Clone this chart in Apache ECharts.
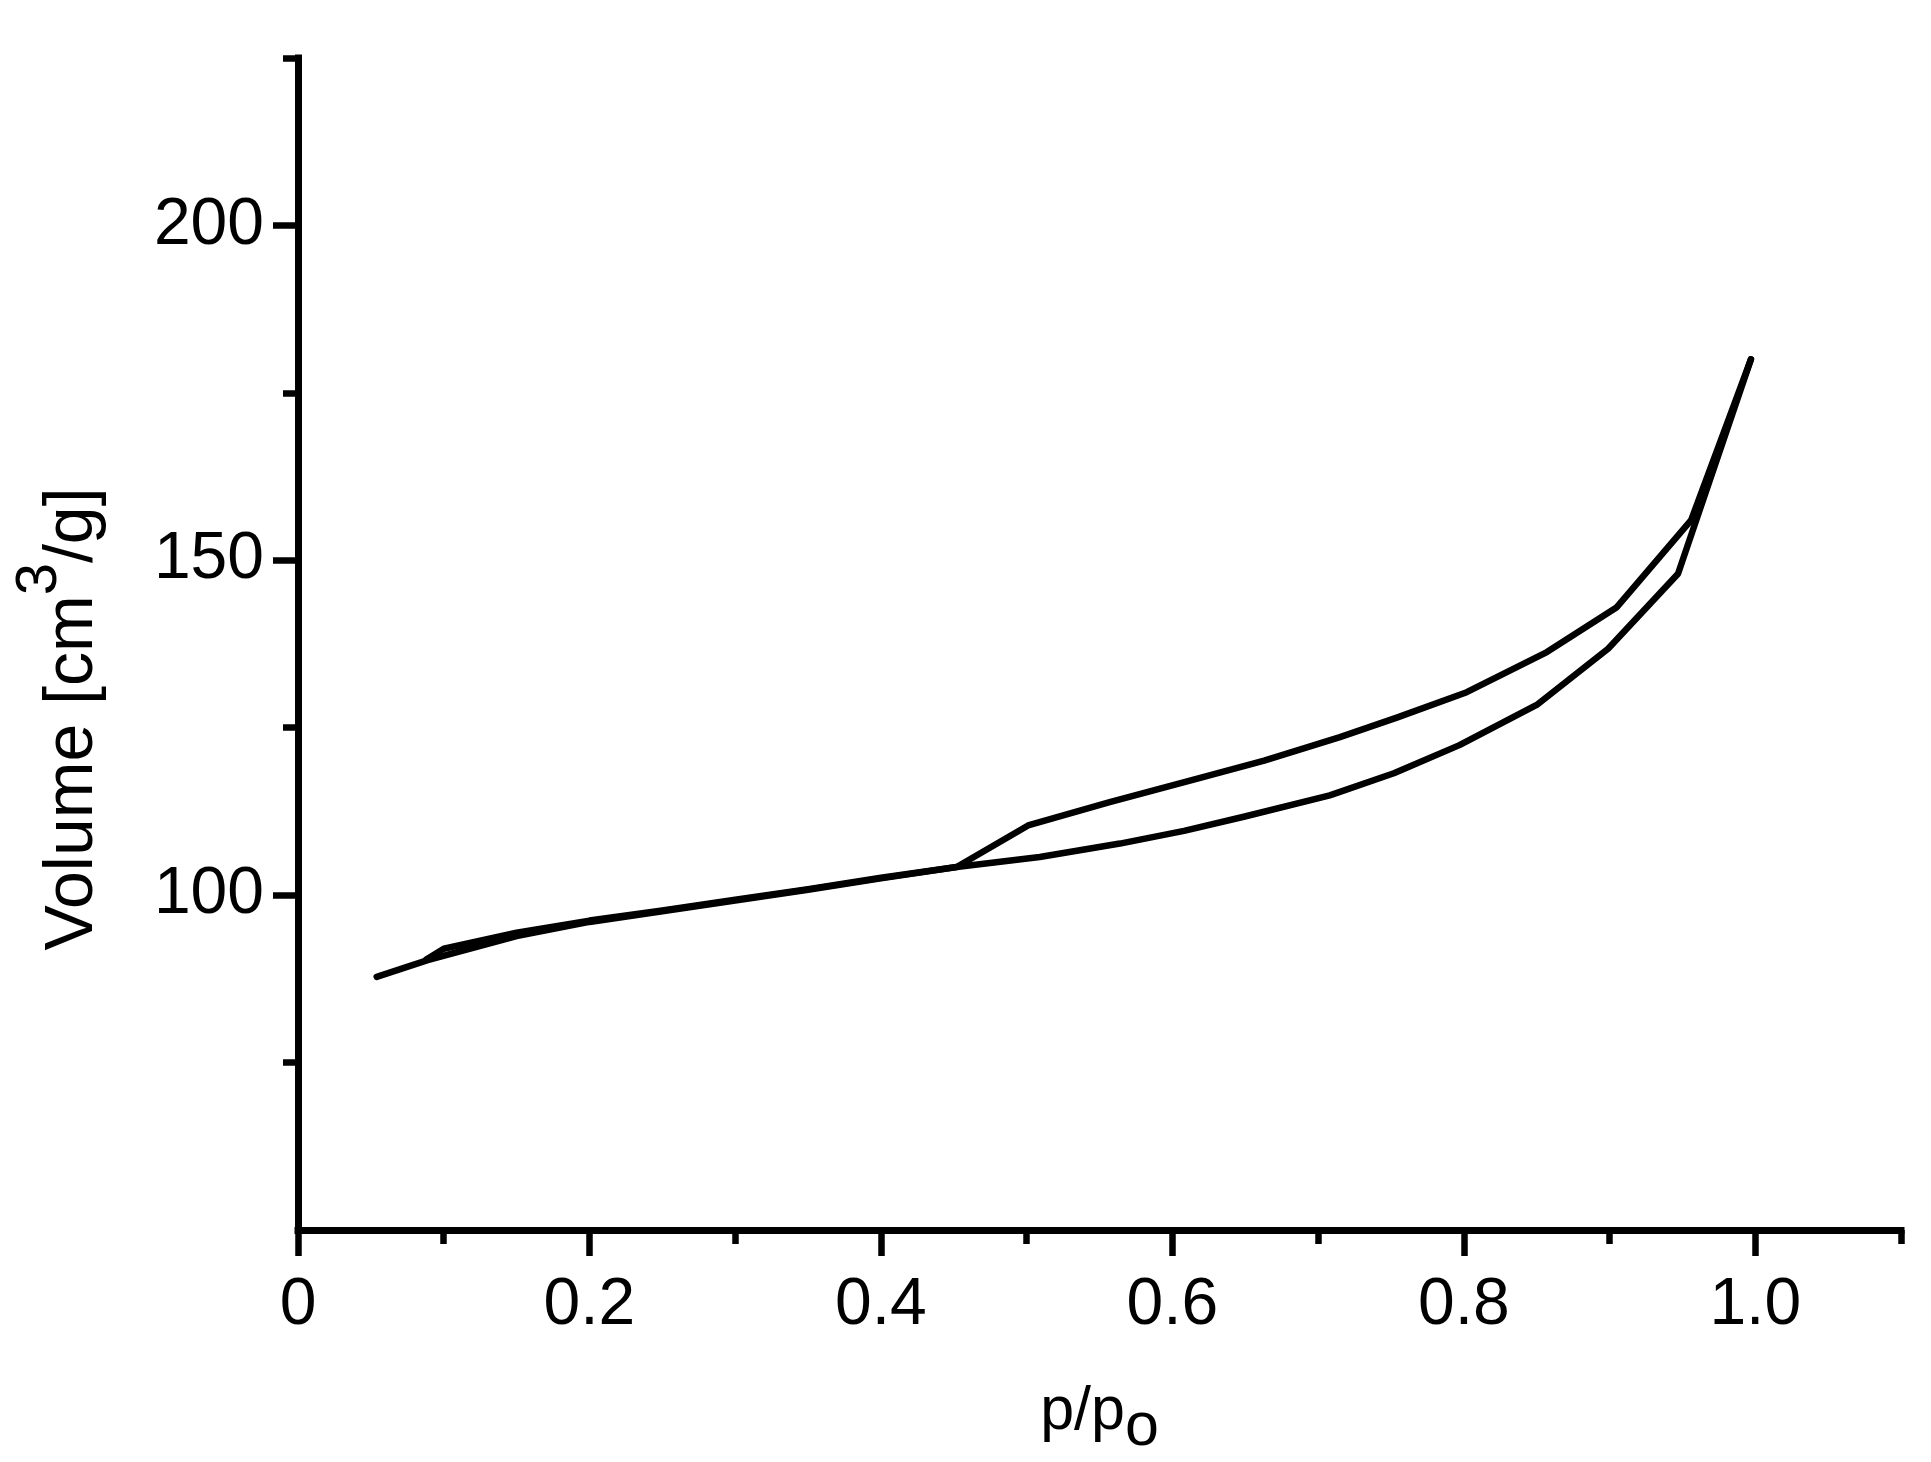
<!DOCTYPE html>
<html>
<head>
<meta charset="utf-8">
<script src="https://cdn.jsdelivr.net/npm/echarts@6/dist/echarts.min.js"></script>
<style>
html,body{margin:0;padding:0;background:#fff;}
#chart{width:1931px;height:1462px;}
</style>
</head>
<body>
<div id="chart"></div>
<script>
// Adsorption branch (lower)
const adsP = [0.054, 0.089, 0.15, 0.2, 0.25, 0.3, 0.35, 0.4, 0.452, 0.509, 0.564, 0.608, 0.649, 0.708, 0.752, 0.797, 0.850, 0.899, 0.947, 0.997];
const adsV = [87.8, 90.3, 93.9, 96.0, 97.6, 99.2, 100.8, 102.5, 104.2, 105.7, 107.7, 109.6, 111.7, 114.9, 118.2, 122.4, 128.4, 136.8, 148.0, 180.0];
// Desorption branch (upper)
const desP = [0.997, 0.956, 0.905, 0.857, 0.802, 0.754, 0.715, 0.663, 0.614, 0.557, 0.501, 0.452, 0.4, 0.35, 0.3, 0.25, 0.2, 0.15, 0.1, 0.088];
const desV = [180.0, 156.0, 143.0, 136.3, 130.3, 126.5, 123.6, 120.1, 117.2, 113.9, 110.4, 104.2, 102.6, 100.9, 99.3, 97.7, 96.2, 94.4, 92.0, 90.4];

const xMajorTicks = [0, 0.2, 0.4, 0.6, 0.8, 1.0];
const xMinorTicks = [0.1, 0.3, 0.5, 0.7, 0.9, 1.1];
const yMajorTicks = [100, 150, 200];
const yMinorTicks = [75, 125, 175, 225];

const FONT = '"Liberation Sans", Arial, sans-serif';
const zip = (a, b) => a.map((v, i) => [v, b[i]]);

const chart = echarts.init(document.getElementById('chart'), null, {renderer: 'canvas'});
const axisLineStyle = {color: '#000', width: 7, cap: 'square'};
const tickStyle = {color: '#000', width: 6.5};
const option = {
  animation: false,
  backgroundColor: '#fff',
  grid: {left: 298, right: 30, top: 58, bottom: 232, containLabel: false, outerBoundsMode: 'none'},
  xAxis: [
    {
      type: 'value', min: 0, max: 1.1, position: 'bottom',
      axisLine: {show: true, lineStyle: axisLineStyle},
      axisTick: {show: true, inside: false, length: 26, customValues: xMajorTicks, lineStyle: tickStyle},
      axisLabel: {show: true, customValues: xMajorTicks, margin: 43, color: '#000', fontSize: 66, fontFamily: FONT,
        formatter: v => v === 0 ? '0' : v.toFixed(1)},
      splitLine: {show: false},
      name: '{a|p/p}{sub|o}',
      nameLocation: 'middle', nameGap: 152,
      nameTextStyle: {
        rich: {
          a: {fontSize: 61, fontFamily: FONT, color: '#000', verticalAlign: 'top', lineHeight: 70},
          sub: {fontSize: 61, fontFamily: FONT, color: '#000', verticalAlign: 'top', lineHeight: 70, padding: [16, 0, 0, 0]}
        }
      }
    },
    {
      type: 'value', min: 0, max: 1.1, position: 'bottom',
      axisLine: {show: false},
      axisTick: {show: true, inside: false, length: 14, customValues: xMinorTicks, lineStyle: tickStyle},
      axisLabel: {show: false},
      splitLine: {show: false}
    }
  ],
  yAxis: [
    {
      type: 'value', min: 50, max: 225, position: 'left',
      axisLine: {show: true, lineStyle: axisLineStyle},
      axisTick: {show: true, inside: false, length: 25, customValues: yMajorTicks, lineStyle: tickStyle},
      axisLabel: {show: true, customValues: yMajorTicks, margin: 34, color: '#000', fontSize: 66, fontFamily: FONT},
      splitLine: {show: false},
      name: '{a|Volume [cm}{sup|3}{a|/g]}',
      nameLocation: 'middle', nameGap: 191,
      nameTextStyle: {
        padding: [0, 150, 0, 0],
        rich: {
          a: {fontSize: 68, fontFamily: FONT, color: '#000', verticalAlign: 'bottom', lineHeight: 78},
          sup: {fontSize: 58, fontFamily: FONT, color: '#000', verticalAlign: 'bottom', lineHeight: 68, padding: [0, 0, 38, 0]}
        }
      }
    },
    {
      type: 'value', min: 50, max: 225, position: 'left',
      axisLine: {show: false},
      axisTick: {show: true, inside: false, length: 15, customValues: yMinorTicks, lineStyle: tickStyle},
      axisLabel: {show: false},
      splitLine: {show: false}
    }
  ],
  series: [
    {
      name: 'Adsorption', type: 'line', xAxisIndex: 0, yAxisIndex: 0,
      data: zip(adsP, adsV), showSymbol: false, symbol: 'none', smooth: false,
      lineStyle: {color: '#000', width: 6.5, cap: 'round', join: 'round'}
    },
    {
      name: 'Desorption', type: 'line', xAxisIndex: 0, yAxisIndex: 0,
      data: zip(desP, desV), showSymbol: false, symbol: 'none', smooth: false,
      lineStyle: {color: '#000', width: 6.5, cap: 'round', join: 'round'}
    }
  ]
};
chart.setOption(option);
</script>
</body>
</html>
